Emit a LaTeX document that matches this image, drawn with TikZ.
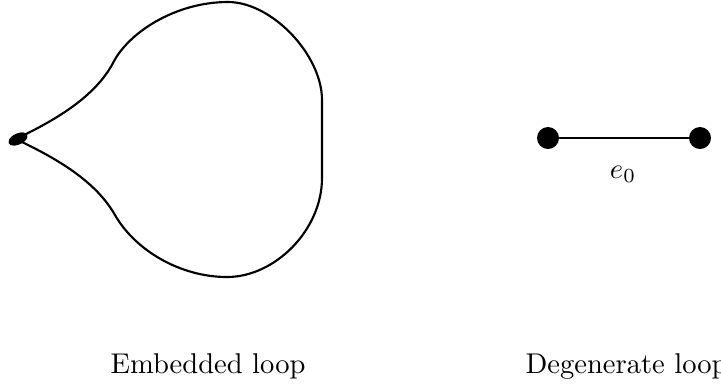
\documentclass[tikz,border=0pt]{standalone}
\usetikzlibrary{shapes.geometric}
\begin{document}
\begin{tikzpicture}[x=0.35pt,y=-0.35pt,
  curve/.style={line width=0.75pt, line join=round, line cap=round},
  dotnode/.style={circle, fill=black, inner sep=0pt, minimum size=7.7pt},
  vertexnode/.style={ellipse, fill=black, inner sep=0pt, minimum width=7pt, minimum height=3.8pt, rotate=25},
  lbl/.style={inner sep=0pt, font=\normalsize}]
\useasboundingbox (0,0) rectangle (721,388);
% embedded loop
\node[vertexnode] (v) at (18,139) {};
\draw[curve] (v.center) ++(2,-2) coordinate (s)
  .. controls (55,120) and (95,97) .. (113,63)
  .. controls (128,33) and (175,2) .. (228,2)
  .. controls (272,2) and (322,55) .. (322,100)
  -- (322,178)
  .. controls (322,230) and (275,277) .. (227,277)
  .. controls (180,277) and (135,250) .. (115,215)
  .. controls (95,180) and (55,158) .. (20,141);
\node[vertexnode] at (v) {};
% degenerate loop
\node[dotnode] (a) at (548,138) {};
\node[dotnode] (b) at (700,138) {};
\draw[curve] (a) -- (b);
\node[lbl] (e) at (623,174) {$e_0$};
% labels
\node[lbl, anchor=base] (l1) at (208,373) {Embedded loop};
\node[lbl, anchor=base west] (l2) at (525,373) {Degenerate loop};
\end{tikzpicture}
\end{document}
